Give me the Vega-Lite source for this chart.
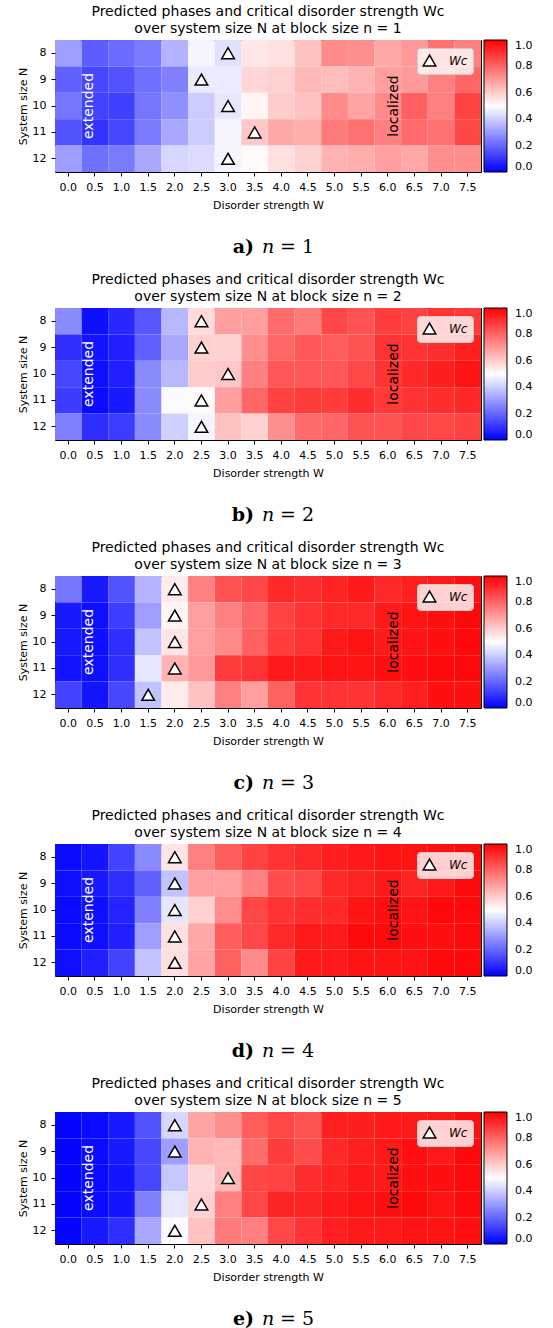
{
"$schema": "https://vega.github.io/schema/vega-lite/v6.json",
"padding": {"left": 16, "top": 4, "right": 5, "bottom": 0},
"spacing": 10,
"datasets": {
"a": [
{"N":8,"W":0,"p":0.31},{"N":8,"W":0.5,"p":0.18},{"N":8,"W":1,"p":0.21},{"N":8,"W":1.5,"p":0.24},{"N":8,"W":2,"p":0.35},{"N":8,"W":2.5,"p":0.48},{"N":8,"W":3,"p":0.44},{"N":8,"W":3.5,"p":0.55},{"N":8,"W":4,"p":0.56},{"N":8,"W":4.5,"p":0.62},{"N":8,"W":5,"p":0.73},{"N":8,"W":5.5,"p":0.72},{"N":8,"W":6,"p":0.67},{"N":8,"W":6.5,"p":0.70},{"N":8,"W":7,"p":0.78},{"N":8,"W":7.5,"p":0.75},
{"N":9,"W":0,"p":0.19},{"N":9,"W":0.5,"p":0.14},{"N":9,"W":1,"p":0.16},{"N":9,"W":1.5,"p":0.22},{"N":9,"W":2,"p":0.25},{"N":9,"W":2.5,"p":0.46},{"N":9,"W":3,"p":0.46},{"N":9,"W":3.5,"p":0.58},{"N":9,"W":4,"p":0.59},{"N":9,"W":4.5,"p":0.64},{"N":9,"W":5,"p":0.63},{"N":9,"W":5.5,"p":0.65},{"N":9,"W":6,"p":0.69},{"N":9,"W":6.5,"p":0.70},{"N":9,"W":7,"p":0.75},{"N":9,"W":7.5,"p":0.80},
{"N":10,"W":0,"p":0.23},{"N":10,"W":0.5,"p":0.13},{"N":10,"W":1,"p":0.125},{"N":10,"W":1.5,"p":0.23},{"N":10,"W":2,"p":0.28},{"N":10,"W":2.5,"p":0.40},{"N":10,"W":3,"p":0.45},{"N":10,"W":3.5,"p":0.52},{"N":10,"W":4,"p":0.60},{"N":10,"W":4.5,"p":0.62},{"N":10,"W":5,"p":0.73},{"N":10,"W":5.5,"p":0.68},{"N":10,"W":6,"p":0.73},{"N":10,"W":6.5,"p":0.81},{"N":10,"W":7,"p":0.75},{"N":10,"W":7.5,"p":0.87},
{"N":11,"W":0,"p":0.16},{"N":11,"W":0.5,"p":0.10},{"N":11,"W":1,"p":0.14},{"N":11,"W":1.5,"p":0.24},{"N":11,"W":2,"p":0.33},{"N":11,"W":2.5,"p":0.40},{"N":11,"W":3,"p":0.48},{"N":11,"W":3.5,"p":0.61},{"N":11,"W":4,"p":0.67},{"N":11,"W":4.5,"p":0.66},{"N":11,"W":5,"p":0.76},{"N":11,"W":5.5,"p":0.78},{"N":11,"W":6,"p":0.75},{"N":11,"W":6.5,"p":0.79},{"N":11,"W":7,"p":0.78},{"N":11,"W":7.5,"p":0.86},
{"N":12,"W":0,"p":0.31},{"N":12,"W":0.5,"p":0.22},{"N":12,"W":1,"p":0.24},{"N":12,"W":1.5,"p":0.33},{"N":12,"W":2,"p":0.42},{"N":12,"W":2.5,"p":0.43},{"N":12,"W":3,"p":0.48},{"N":12,"W":3.5,"p":0.51},{"N":12,"W":4,"p":0.56},{"N":12,"W":4.5,"p":0.59},{"N":12,"W":5,"p":0.65},{"N":12,"W":5.5,"p":0.66},{"N":12,"W":6,"p":0.69},{"N":12,"W":6.5,"p":0.67},{"N":12,"W":7,"p":0.72},{"N":12,"W":7.5,"p":0.72}
],
"b": [
{"N":8,"W":0,"p":0.27},{"N":8,"W":0.5,"p":0.03},{"N":8,"W":1,"p":0.08},{"N":8,"W":1.5,"p":0.17},{"N":8,"W":2,"p":0.36},{"N":8,"W":2.5,"p":0.57},{"N":8,"W":3,"p":0.69},{"N":8,"W":3.5,"p":0.69},{"N":8,"W":4,"p":0.79},{"N":8,"W":4.5,"p":0.76},{"N":8,"W":5,"p":0.86},{"N":8,"W":5.5,"p":0.84},{"N":8,"W":6,"p":0.88},{"N":8,"W":6.5,"p":0.87},{"N":8,"W":7,"p":0.90},{"N":8,"W":7.5,"p":0.89},
{"N":9,"W":0,"p":0.09},{"N":9,"W":0.5,"p":0.04},{"N":9,"W":1,"p":0.06},{"N":9,"W":1.5,"p":0.19},{"N":9,"W":2,"p":0.33},{"N":9,"W":2.5,"p":0.59},{"N":9,"W":3,"p":0.59},{"N":9,"W":3.5,"p":0.72},{"N":9,"W":4,"p":0.80},{"N":9,"W":4.5,"p":0.83},{"N":9,"W":5,"p":0.82},{"N":9,"W":5.5,"p":0.84},{"N":9,"W":6,"p":0.90},{"N":9,"W":6.5,"p":0.90},{"N":9,"W":7,"p":0.91},{"N":9,"W":7.5,"p":0.94},
{"N":10,"W":0,"p":0.14},{"N":10,"W":0.5,"p":0.03},{"N":10,"W":1,"p":0.06},{"N":10,"W":1.5,"p":0.27},{"N":10,"W":2,"p":0.36},{"N":10,"W":2.5,"p":0.60},{"N":10,"W":3,"p":0.61},{"N":10,"W":3.5,"p":0.75},{"N":10,"W":4,"p":0.83},{"N":10,"W":4.5,"p":0.83},{"N":10,"W":5,"p":0.83},{"N":10,"W":5.5,"p":0.86},{"N":10,"W":6,"p":0.90},{"N":10,"W":6.5,"p":0.92},{"N":10,"W":7,"p":0.94},{"N":10,"W":7.5,"p":0.96},
{"N":11,"W":0,"p":0.12},{"N":11,"W":0.5,"p":0.02},{"N":11,"W":1,"p":0.05},{"N":11,"W":1.5,"p":0.27},{"N":11,"W":2,"p":0.49},{"N":11,"W":2.5,"p":0.51},{"N":11,"W":3,"p":0.69},{"N":11,"W":3.5,"p":0.80},{"N":11,"W":4,"p":0.87},{"N":11,"W":4.5,"p":0.88},{"N":11,"W":5,"p":0.88},{"N":11,"W":5.5,"p":0.91},{"N":11,"W":6,"p":0.89},{"N":11,"W":6.5,"p":0.90},{"N":11,"W":7,"p":0.91},{"N":11,"W":7.5,"p":0.92},
{"N":12,"W":0,"p":0.25},{"N":12,"W":0.5,"p":0.09},{"N":12,"W":1,"p":0.12},{"N":12,"W":1.5,"p":0.27},{"N":12,"W":2,"p":0.41},{"N":12,"W":2.5,"p":0.48},{"N":12,"W":3,"p":0.62},{"N":12,"W":3.5,"p":0.59},{"N":12,"W":4,"p":0.72},{"N":12,"W":4.5,"p":0.79},{"N":12,"W":5,"p":0.80},{"N":12,"W":5.5,"p":0.84},{"N":12,"W":6,"p":0.84},{"N":12,"W":6.5,"p":0.86},{"N":12,"W":7,"p":0.86},{"N":12,"W":7.5,"p":0.87}
],
"c": [
{"N":8,"W":0,"p":0.23},{"N":8,"W":0.5,"p":0.05},{"N":8,"W":1,"p":0.16},{"N":8,"W":1.5,"p":0.35},{"N":8,"W":2,"p":0.54},{"N":8,"W":2.5,"p":0.75},{"N":8,"W":3,"p":0.84},{"N":8,"W":3.5,"p":0.86},{"N":8,"W":4,"p":0.92},{"N":8,"W":4.5,"p":0.91},{"N":8,"W":5,"p":0.93},{"N":8,"W":5.5,"p":0.95},{"N":8,"W":6,"p":0.92},{"N":8,"W":6.5,"p":0.94},{"N":8,"W":7,"p":0.95},{"N":8,"W":7.5,"p":0.97},
{"N":9,"W":0,"p":0.05},{"N":9,"W":0.5,"p":0.03},{"N":9,"W":1,"p":0.12},{"N":9,"W":1.5,"p":0.31},{"N":9,"W":2,"p":0.52},{"N":9,"W":2.5,"p":0.69},{"N":9,"W":3,"p":0.75},{"N":9,"W":3.5,"p":0.80},{"N":9,"W":4,"p":0.87},{"N":9,"W":4.5,"p":0.90},{"N":9,"W":5,"p":0.92},{"N":9,"W":5.5,"p":0.92},{"N":9,"W":6,"p":0.95},{"N":9,"W":6.5,"p":0.96},{"N":9,"W":7,"p":0.97},{"N":9,"W":7.5,"p":0.98},
{"N":10,"W":0,"p":0.05},{"N":10,"W":0.5,"p":0.03},{"N":10,"W":1,"p":0.09},{"N":10,"W":1.5,"p":0.38},{"N":10,"W":2,"p":0.55},{"N":10,"W":2.5,"p":0.69},{"N":10,"W":3,"p":0.73},{"N":10,"W":3.5,"p":0.81},{"N":10,"W":4,"p":0.88},{"N":10,"W":4.5,"p":0.90},{"N":10,"W":5,"p":0.95},{"N":10,"W":5.5,"p":0.96},{"N":10,"W":6,"p":0.95},{"N":10,"W":6.5,"p":0.96},{"N":10,"W":7,"p":0.97},{"N":10,"W":7.5,"p":0.98},
{"N":11,"W":0,"p":0.04},{"N":11,"W":0.5,"p":0.03},{"N":11,"W":1,"p":0.09},{"N":11,"W":1.5,"p":0.45},{"N":11,"W":2,"p":0.65},{"N":11,"W":2.5,"p":0.70},{"N":11,"W":3,"p":0.88},{"N":11,"W":3.5,"p":0.90},{"N":11,"W":4,"p":0.95},{"N":11,"W":4.5,"p":0.95},{"N":11,"W":5,"p":0.96},{"N":11,"W":5.5,"p":0.96},{"N":11,"W":6,"p":0.97},{"N":11,"W":6.5,"p":0.97},{"N":11,"W":7,"p":0.98},{"N":11,"W":7.5,"p":0.98},
{"N":12,"W":0,"p":0.13},{"N":12,"W":0.5,"p":0.04},{"N":12,"W":1,"p":0.14},{"N":12,"W":1.5,"p":0.38},{"N":12,"W":2,"p":0.54},{"N":12,"W":2.5,"p":0.62},{"N":12,"W":3,"p":0.75},{"N":12,"W":3.5,"p":0.69},{"N":12,"W":4,"p":0.81},{"N":12,"W":4.5,"p":0.90},{"N":12,"W":5,"p":0.90},{"N":12,"W":5.5,"p":0.90},{"N":12,"W":6,"p":0.92},{"N":12,"W":6.5,"p":0.94},{"N":12,"W":7,"p":0.97},{"N":12,"W":7.5,"p":0.97}
],
"d": [
{"N":8,"W":0,"p":0.02},{"N":8,"W":0.5,"p":0.04},{"N":8,"W":1,"p":0.13},{"N":8,"W":1.5,"p":0.27},{"N":8,"W":2,"p":0.55},{"N":8,"W":2.5,"p":0.75},{"N":8,"W":3,"p":0.82},{"N":8,"W":3.5,"p":0.87},{"N":8,"W":4,"p":0.90},{"N":8,"W":4.5,"p":0.92},{"N":8,"W":5,"p":0.94},{"N":8,"W":5.5,"p":0.95},{"N":8,"W":6,"p":0.96},{"N":8,"W":6.5,"p":0.96},{"N":8,"W":7,"p":0.97},{"N":8,"W":7.5,"p":0.98},
{"N":9,"W":0,"p":0.03},{"N":9,"W":0.5,"p":0.05},{"N":9,"W":1,"p":0.09},{"N":9,"W":1.5,"p":0.19},{"N":9,"W":2,"p":0.38},{"N":9,"W":2.5,"p":0.69},{"N":9,"W":3,"p":0.69},{"N":9,"W":3.5,"p":0.75},{"N":9,"W":4,"p":0.85},{"N":9,"W":4.5,"p":0.86},{"N":9,"W":5,"p":0.92},{"N":9,"W":5.5,"p":0.93},{"N":9,"W":6,"p":0.95},{"N":9,"W":6.5,"p":0.93},{"N":9,"W":7,"p":0.95},{"N":9,"W":7.5,"p":0.98},
{"N":10,"W":0,"p":0.02},{"N":10,"W":0.5,"p":0.03},{"N":10,"W":1,"p":0.07},{"N":10,"W":1.5,"p":0.25},{"N":10,"W":2,"p":0.45},{"N":10,"W":2.5,"p":0.59},{"N":10,"W":3,"p":0.72},{"N":10,"W":3.5,"p":0.86},{"N":10,"W":4,"p":0.90},{"N":10,"W":4.5,"p":0.91},{"N":10,"W":5,"p":0.92},{"N":10,"W":5.5,"p":0.96},{"N":10,"W":6,"p":0.97},{"N":10,"W":6.5,"p":0.96},{"N":10,"W":7,"p":0.98},{"N":10,"W":7.5,"p":0.98},
{"N":11,"W":0,"p":0.02},{"N":11,"W":0.5,"p":0.03},{"N":11,"W":1,"p":0.06},{"N":11,"W":1.5,"p":0.31},{"N":11,"W":2,"p":0.56},{"N":11,"W":2.5,"p":0.67},{"N":11,"W":3,"p":0.82},{"N":11,"W":3.5,"p":0.86},{"N":11,"W":4,"p":0.92},{"N":11,"W":4.5,"p":0.95},{"N":11,"W":5,"p":0.95},{"N":11,"W":5.5,"p":0.98},{"N":11,"W":6,"p":0.98},{"N":11,"W":6.5,"p":0.97},{"N":11,"W":7,"p":0.97},{"N":11,"W":7.5,"p":0.98},
{"N":12,"W":0,"p":0.03},{"N":12,"W":0.5,"p":0.06},{"N":12,"W":1,"p":0.13},{"N":12,"W":1.5,"p":0.38},{"N":12,"W":2,"p":0.56},{"N":12,"W":2.5,"p":0.68},{"N":12,"W":3,"p":0.81},{"N":12,"W":3.5,"p":0.73},{"N":12,"W":4,"p":0.87},{"N":12,"W":4.5,"p":0.95},{"N":12,"W":5,"p":0.95},{"N":12,"W":5.5,"p":0.96},{"N":12,"W":6,"p":0.96},{"N":12,"W":6.5,"p":0.96},{"N":12,"W":7,"p":0.98},{"N":12,"W":7.5,"p":0.98}
],
"e": [
{"N":8,"W":0,"p":0.01},{"N":8,"W":0.5,"p":0.02},{"N":8,"W":1,"p":0.05},{"N":8,"W":1.5,"p":0.16},{"N":8,"W":2,"p":0.42},{"N":8,"W":2.5,"p":0.68},{"N":8,"W":3,"p":0.72},{"N":8,"W":3.5,"p":0.82},{"N":8,"W":4,"p":0.86},{"N":8,"W":4.5,"p":0.84},{"N":8,"W":5,"p":0.94},{"N":8,"W":5.5,"p":0.94},{"N":8,"W":6,"p":0.95},{"N":8,"W":6.5,"p":0.95},{"N":8,"W":7,"p":0.95},{"N":8,"W":7.5,"p":0.97},
{"N":9,"W":0,"p":0.01},{"N":9,"W":0.5,"p":0.02},{"N":9,"W":1,"p":0.05},{"N":9,"W":1.5,"p":0.14},{"N":9,"W":2,"p":0.31},{"N":9,"W":2.5,"p":0.65},{"N":9,"W":3,"p":0.64},{"N":9,"W":3.5,"p":0.79},{"N":9,"W":4,"p":0.88},{"N":9,"W":4.5,"p":0.85},{"N":9,"W":5,"p":0.92},{"N":9,"W":5.5,"p":0.94},{"N":9,"W":6,"p":0.95},{"N":9,"W":6.5,"p":0.97},{"N":9,"W":7,"p":0.95},{"N":9,"W":7.5,"p":0.98},
{"N":10,"W":0,"p":0.01},{"N":10,"W":0.5,"p":0.02},{"N":10,"W":1,"p":0.04},{"N":10,"W":1.5,"p":0.14},{"N":10,"W":2,"p":0.39},{"N":10,"W":2.5,"p":0.58},{"N":10,"W":3,"p":0.64},{"N":10,"W":3.5,"p":0.86},{"N":10,"W":4,"p":0.87},{"N":10,"W":4.5,"p":0.91},{"N":10,"W":5,"p":0.93},{"N":10,"W":5.5,"p":0.95},{"N":10,"W":6,"p":0.95},{"N":10,"W":6.5,"p":0.97},{"N":10,"W":7,"p":0.97},{"N":10,"W":7.5,"p":0.98},
{"N":11,"W":0,"p":0.01},{"N":11,"W":0.5,"p":0.02},{"N":11,"W":1,"p":0.04},{"N":11,"W":1.5,"p":0.25},{"N":11,"W":2,"p":0.45},{"N":11,"W":2.5,"p":0.59},{"N":11,"W":3,"p":0.75},{"N":11,"W":3.5,"p":0.86},{"N":11,"W":4,"p":0.93},{"N":11,"W":4.5,"p":0.93},{"N":11,"W":5,"p":0.95},{"N":11,"W":5.5,"p":0.96},{"N":11,"W":6,"p":0.97},{"N":11,"W":6.5,"p":0.98},{"N":11,"W":7,"p":0.96},{"N":11,"W":7.5,"p":0.98},
{"N":12,"W":0,"p":0.01},{"N":12,"W":0.5,"p":0.05},{"N":12,"W":1,"p":0.09},{"N":12,"W":1.5,"p":0.33},{"N":12,"W":2,"p":0.49},{"N":12,"W":2.5,"p":0.62},{"N":12,"W":3,"p":0.76},{"N":12,"W":3.5,"p":0.75},{"N":12,"W":4,"p":0.86},{"N":12,"W":4.5,"p":0.90},{"N":12,"W":5,"p":0.94},{"N":12,"W":5.5,"p":0.95},{"N":12,"W":6,"p":0.95},{"N":12,"W":6.5,"p":0.96},{"N":12,"W":7,"p":0.96},{"N":12,"W":7.5,"p":0.97}
],
"wa": [{"N":8,"W":3,"lbl":"Wc"},{"N":9,"W":2.5,"lbl":"Wc"},{"N":10,"W":3,"lbl":"Wc"},{"N":11,"W":3.5,"lbl":"Wc"},{"N":12,"W":3,"lbl":"Wc"}],
"wb": [{"N":8,"W":2.5,"lbl":"Wc"},{"N":9,"W":2.5,"lbl":"Wc"},{"N":10,"W":3,"lbl":"Wc"},{"N":11,"W":2.5,"lbl":"Wc"},{"N":12,"W":2.5,"lbl":"Wc"}],
"wc": [{"N":8,"W":2,"lbl":"Wc"},{"N":9,"W":2,"lbl":"Wc"},{"N":10,"W":2,"lbl":"Wc"},{"N":11,"W":2,"lbl":"Wc"},{"N":12,"W":1.5,"lbl":"Wc"}],
"wd": [{"N":8,"W":2,"lbl":"Wc"},{"N":9,"W":2,"lbl":"Wc"},{"N":10,"W":2,"lbl":"Wc"},{"N":11,"W":2,"lbl":"Wc"},{"N":12,"W":2,"lbl":"Wc"}],
"we": [{"N":8,"W":2,"lbl":"Wc"},{"N":9,"W":2,"lbl":"Wc"},{"N":10,"W":3,"lbl":"Wc"},{"N":11,"W":2.5,"lbl":"Wc"},{"N":12,"W":2,"lbl":"Wc"}],
"ext": [{"W":0.5,"N":10,"t":"extended"}],
"loc": [{"W":6,"N":10,"t":"localized"}]
},
"vconcat": [
{"width":426,"height":132,"title":{"text":["Predicted phases and critical disorder strength Wc","over system size N at block size n = 1"]},
"layer":[
{"data":{"name":"a"},"mark":{"type":"rect"},"encoding":{
"x":{"field":"W","type":"ordinal","scale":{"domain":[0,0.5,1,1.5,2,2.5,3,3.5,4,4.5,5,5.5,6,6.5,7,7.5],"paddingInner":0,"paddingOuter":0},"axis":{"title":"Disorder strength W","labelExpr":"format(datum.value,'.1f')"}},
"y":{"field":"N","type":"ordinal","scale":{"domain":[8,9,10,11,12],"paddingInner":0,"paddingOuter":0},"axis":{"title":"System size N"}},
"color":{"field":"p","type":"quantitative","scale":{"type":"linear","domain":[0,0.5,1],"range":["#0000ff","#ffffff","#ff0000"],"interpolate":"rgb"},"legend":{"type":"gradient","title":null,"orient":"right","direction":"vertical","offset":3,"gradientLength":132,"gradientThickness":23,"gradientStrokeColor":"black","gradientStrokeWidth":1,"values":[0,0.2,0.4,0.6,0.8,1],"format":".1f","labelFontSize":11,"labelOffset":8,"labelOverlap":false,"encode":{"labels":{"baseline":{"value":"middle"}}}}}}},
{"data":{"name":"wa"},"mark":{"type":"point","shape":"triangle-up","filled":true,"fill":"white","stroke":"black","strokeWidth":1.5,"size":160,"opacity":1},"encoding":{"x":{"field":"W","type":"ordinal"},"y":{"field":"N","type":"ordinal"},"shape":{"field":"lbl","type":"nominal","scale":{"range":["triangle-up"]},"legend":{"title":null,"orient":"top-right","offset":8,"padding":5,"fillColor":"rgba(255,255,255,0.8)","strokeColor":"#cccccc","cornerRadius":3,"symbolSize":160,"symbolStrokeWidth":1.5,"symbolOpacity":1,"labelFontSize":12,"labelFontStyle":"italic","labelOffset":12,"encode":{"symbols":{"stroke":{"value":"black"},"fill":{"value":"white"},"strokeWidth":{"value":1.5}}}}}}},
{"data":{"name":"ext"},"mark":{"type":"text","angle":270,"color":"white","fontSize":14,"baseline":"middle","align":"center","dy":-6},"encoding":{"x":{"field":"W","type":"ordinal"},"y":{"field":"N","type":"ordinal"},"text":{"field":"t"}}},
{"data":{"name":"loc"},"mark":{"type":"text","angle":270,"color":"black","fontSize":14,"baseline":"middle","align":"center","dy":6},"encoding":{"x":{"field":"W","type":"ordinal"},"y":{"field":"N","type":"ordinal"},"text":{"field":"t"}}}
]},
{"width":426,"height":41,"view":{"stroke":null},"layer":[
{"data":{"values":[{"t":"a)"}]},"mark":{"type":"text","font":"DejaVu Serif","fontSize":19,"fontWeight":"bold","align":"right","baseline":"middle","dx":-14,"dy":5},"encoding":{"text":{"field":"t"}}},
{"data":{"values":[{"t":"n"}]},"mark":{"type":"text","font":"DejaVu Serif","fontSize":19,"fontStyle":"italic","align":"left","baseline":"middle","dx":-6,"dy":5},"encoding":{"text":{"field":"t"}}},
{"data":{"values":[{"t":"= 1"}]},"mark":{"type":"text","font":"DejaVu Serif","fontSize":19,"align":"left","baseline":"middle","dx":12,"dy":5},"encoding":{"text":{"field":"t"}}}
]},
{"width":426,"height":132,"title":{"text":["Predicted phases and critical disorder strength Wc","over system size N at block size n = 2"]},
"layer":[
{"data":{"name":"b"},"mark":{"type":"rect"},"encoding":{
"x":{"field":"W","type":"ordinal","scale":{"domain":[0,0.5,1,1.5,2,2.5,3,3.5,4,4.5,5,5.5,6,6.5,7,7.5],"paddingInner":0,"paddingOuter":0},"axis":{"title":"Disorder strength W","labelExpr":"format(datum.value,'.1f')"}},
"y":{"field":"N","type":"ordinal","scale":{"domain":[8,9,10,11,12],"paddingInner":0,"paddingOuter":0},"axis":{"title":"System size N"}},
"color":{"field":"p","type":"quantitative","scale":{"type":"linear","domain":[0,0.5,1],"range":["#0000ff","#ffffff","#ff0000"],"interpolate":"rgb"},"legend":{"type":"gradient","title":null,"orient":"right","direction":"vertical","offset":3,"gradientLength":132,"gradientThickness":23,"gradientStrokeColor":"black","gradientStrokeWidth":1,"values":[0,0.2,0.4,0.6,0.8,1],"format":".1f","labelFontSize":11,"labelOffset":8,"labelOverlap":false,"encode":{"labels":{"baseline":{"value":"middle"}}}}}}},
{"data":{"name":"wb"},"mark":{"type":"point","shape":"triangle-up","filled":true,"fill":"white","stroke":"black","strokeWidth":1.5,"size":160,"opacity":1},"encoding":{"x":{"field":"W","type":"ordinal"},"y":{"field":"N","type":"ordinal"},"shape":{"field":"lbl","type":"nominal","scale":{"range":["triangle-up"]},"legend":{"title":null,"orient":"top-right","offset":8,"padding":5,"fillColor":"rgba(255,255,255,0.8)","strokeColor":"#cccccc","cornerRadius":3,"symbolSize":160,"symbolStrokeWidth":1.5,"symbolOpacity":1,"labelFontSize":12,"labelFontStyle":"italic","labelOffset":12,"encode":{"symbols":{"stroke":{"value":"black"},"fill":{"value":"white"},"strokeWidth":{"value":1.5}}}}}}},
{"data":{"name":"ext"},"mark":{"type":"text","angle":270,"color":"white","fontSize":14,"baseline":"middle","align":"center","dy":-6},"encoding":{"x":{"field":"W","type":"ordinal"},"y":{"field":"N","type":"ordinal"},"text":{"field":"t"}}},
{"data":{"name":"loc"},"mark":{"type":"text","angle":270,"color":"black","fontSize":14,"baseline":"middle","align":"center","dy":6},"encoding":{"x":{"field":"W","type":"ordinal"},"y":{"field":"N","type":"ordinal"},"text":{"field":"t"}}}
]},
{"width":426,"height":41,"view":{"stroke":null},"layer":[
{"data":{"values":[{"t":"b)"}]},"mark":{"type":"text","font":"DejaVu Serif","fontSize":19,"fontWeight":"bold","align":"right","baseline":"middle","dx":-14,"dy":5},"encoding":{"text":{"field":"t"}}},
{"data":{"values":[{"t":"n"}]},"mark":{"type":"text","font":"DejaVu Serif","fontSize":19,"fontStyle":"italic","align":"left","baseline":"middle","dx":-6,"dy":5},"encoding":{"text":{"field":"t"}}},
{"data":{"values":[{"t":"= 2"}]},"mark":{"type":"text","font":"DejaVu Serif","fontSize":19,"align":"left","baseline":"middle","dx":12,"dy":5},"encoding":{"text":{"field":"t"}}}
]},
{"width":426,"height":132,"title":{"text":["Predicted phases and critical disorder strength Wc","over system size N at block size n = 3"]},
"layer":[
{"data":{"name":"c"},"mark":{"type":"rect"},"encoding":{
"x":{"field":"W","type":"ordinal","scale":{"domain":[0,0.5,1,1.5,2,2.5,3,3.5,4,4.5,5,5.5,6,6.5,7,7.5],"paddingInner":0,"paddingOuter":0},"axis":{"title":"Disorder strength W","labelExpr":"format(datum.value,'.1f')"}},
"y":{"field":"N","type":"ordinal","scale":{"domain":[8,9,10,11,12],"paddingInner":0,"paddingOuter":0},"axis":{"title":"System size N"}},
"color":{"field":"p","type":"quantitative","scale":{"type":"linear","domain":[0,0.5,1],"range":["#0000ff","#ffffff","#ff0000"],"interpolate":"rgb"},"legend":{"type":"gradient","title":null,"orient":"right","direction":"vertical","offset":3,"gradientLength":132,"gradientThickness":23,"gradientStrokeColor":"black","gradientStrokeWidth":1,"values":[0,0.2,0.4,0.6,0.8,1],"format":".1f","labelFontSize":11,"labelOffset":8,"labelOverlap":false,"encode":{"labels":{"baseline":{"value":"middle"}}}}}}},
{"data":{"name":"wc"},"mark":{"type":"point","shape":"triangle-up","filled":true,"fill":"white","stroke":"black","strokeWidth":1.5,"size":160,"opacity":1},"encoding":{"x":{"field":"W","type":"ordinal"},"y":{"field":"N","type":"ordinal"},"shape":{"field":"lbl","type":"nominal","scale":{"range":["triangle-up"]},"legend":{"title":null,"orient":"top-right","offset":8,"padding":5,"fillColor":"rgba(255,255,255,0.8)","strokeColor":"#cccccc","cornerRadius":3,"symbolSize":160,"symbolStrokeWidth":1.5,"symbolOpacity":1,"labelFontSize":12,"labelFontStyle":"italic","labelOffset":12,"encode":{"symbols":{"stroke":{"value":"black"},"fill":{"value":"white"},"strokeWidth":{"value":1.5}}}}}}},
{"data":{"name":"ext"},"mark":{"type":"text","angle":270,"color":"white","fontSize":14,"baseline":"middle","align":"center","dy":-6},"encoding":{"x":{"field":"W","type":"ordinal"},"y":{"field":"N","type":"ordinal"},"text":{"field":"t"}}},
{"data":{"name":"loc"},"mark":{"type":"text","angle":270,"color":"black","fontSize":14,"baseline":"middle","align":"center","dy":6},"encoding":{"x":{"field":"W","type":"ordinal"},"y":{"field":"N","type":"ordinal"},"text":{"field":"t"}}}
]},
{"width":426,"height":41,"view":{"stroke":null},"layer":[
{"data":{"values":[{"t":"c)"}]},"mark":{"type":"text","font":"DejaVu Serif","fontSize":19,"fontWeight":"bold","align":"right","baseline":"middle","dx":-14,"dy":5},"encoding":{"text":{"field":"t"}}},
{"data":{"values":[{"t":"n"}]},"mark":{"type":"text","font":"DejaVu Serif","fontSize":19,"fontStyle":"italic","align":"left","baseline":"middle","dx":-6,"dy":5},"encoding":{"text":{"field":"t"}}},
{"data":{"values":[{"t":"= 3"}]},"mark":{"type":"text","font":"DejaVu Serif","fontSize":19,"align":"left","baseline":"middle","dx":12,"dy":5},"encoding":{"text":{"field":"t"}}}
]},
{"width":426,"height":132,"title":{"text":["Predicted phases and critical disorder strength Wc","over system size N at block size n = 4"]},
"layer":[
{"data":{"name":"d"},"mark":{"type":"rect"},"encoding":{
"x":{"field":"W","type":"ordinal","scale":{"domain":[0,0.5,1,1.5,2,2.5,3,3.5,4,4.5,5,5.5,6,6.5,7,7.5],"paddingInner":0,"paddingOuter":0},"axis":{"title":"Disorder strength W","labelExpr":"format(datum.value,'.1f')"}},
"y":{"field":"N","type":"ordinal","scale":{"domain":[8,9,10,11,12],"paddingInner":0,"paddingOuter":0},"axis":{"title":"System size N"}},
"color":{"field":"p","type":"quantitative","scale":{"type":"linear","domain":[0,0.5,1],"range":["#0000ff","#ffffff","#ff0000"],"interpolate":"rgb"},"legend":{"type":"gradient","title":null,"orient":"right","direction":"vertical","offset":3,"gradientLength":132,"gradientThickness":23,"gradientStrokeColor":"black","gradientStrokeWidth":1,"values":[0,0.2,0.4,0.6,0.8,1],"format":".1f","labelFontSize":11,"labelOffset":8,"labelOverlap":false,"encode":{"labels":{"baseline":{"value":"middle"}}}}}}},
{"data":{"name":"wd"},"mark":{"type":"point","shape":"triangle-up","filled":true,"fill":"white","stroke":"black","strokeWidth":1.5,"size":160,"opacity":1},"encoding":{"x":{"field":"W","type":"ordinal"},"y":{"field":"N","type":"ordinal"},"shape":{"field":"lbl","type":"nominal","scale":{"range":["triangle-up"]},"legend":{"title":null,"orient":"top-right","offset":8,"padding":5,"fillColor":"rgba(255,255,255,0.8)","strokeColor":"#cccccc","cornerRadius":3,"symbolSize":160,"symbolStrokeWidth":1.5,"symbolOpacity":1,"labelFontSize":12,"labelFontStyle":"italic","labelOffset":12,"encode":{"symbols":{"stroke":{"value":"black"},"fill":{"value":"white"},"strokeWidth":{"value":1.5}}}}}}},
{"data":{"name":"ext"},"mark":{"type":"text","angle":270,"color":"white","fontSize":14,"baseline":"middle","align":"center","dy":-6},"encoding":{"x":{"field":"W","type":"ordinal"},"y":{"field":"N","type":"ordinal"},"text":{"field":"t"}}},
{"data":{"name":"loc"},"mark":{"type":"text","angle":270,"color":"black","fontSize":14,"baseline":"middle","align":"center","dy":6},"encoding":{"x":{"field":"W","type":"ordinal"},"y":{"field":"N","type":"ordinal"},"text":{"field":"t"}}}
]},
{"width":426,"height":41,"view":{"stroke":null},"layer":[
{"data":{"values":[{"t":"d)"}]},"mark":{"type":"text","font":"DejaVu Serif","fontSize":19,"fontWeight":"bold","align":"right","baseline":"middle","dx":-14,"dy":5},"encoding":{"text":{"field":"t"}}},
{"data":{"values":[{"t":"n"}]},"mark":{"type":"text","font":"DejaVu Serif","fontSize":19,"fontStyle":"italic","align":"left","baseline":"middle","dx":-6,"dy":5},"encoding":{"text":{"field":"t"}}},
{"data":{"values":[{"t":"= 4"}]},"mark":{"type":"text","font":"DejaVu Serif","fontSize":19,"align":"left","baseline":"middle","dx":12,"dy":5},"encoding":{"text":{"field":"t"}}}
]},
{"width":426,"height":132,"title":{"text":["Predicted phases and critical disorder strength Wc","over system size N at block size n = 5"]},
"layer":[
{"data":{"name":"e"},"mark":{"type":"rect"},"encoding":{
"x":{"field":"W","type":"ordinal","scale":{"domain":[0,0.5,1,1.5,2,2.5,3,3.5,4,4.5,5,5.5,6,6.5,7,7.5],"paddingInner":0,"paddingOuter":0},"axis":{"title":"Disorder strength W","labelExpr":"format(datum.value,'.1f')"}},
"y":{"field":"N","type":"ordinal","scale":{"domain":[8,9,10,11,12],"paddingInner":0,"paddingOuter":0},"axis":{"title":"System size N"}},
"color":{"field":"p","type":"quantitative","scale":{"type":"linear","domain":[0,0.5,1],"range":["#0000ff","#ffffff","#ff0000"],"interpolate":"rgb"},"legend":{"type":"gradient","title":null,"orient":"right","direction":"vertical","offset":3,"gradientLength":132,"gradientThickness":23,"gradientStrokeColor":"black","gradientStrokeWidth":1,"values":[0,0.2,0.4,0.6,0.8,1],"format":".1f","labelFontSize":11,"labelOffset":8,"labelOverlap":false,"encode":{"labels":{"baseline":{"value":"middle"}}}}}}},
{"data":{"name":"we"},"mark":{"type":"point","shape":"triangle-up","filled":true,"fill":"white","stroke":"black","strokeWidth":1.5,"size":160,"opacity":1},"encoding":{"x":{"field":"W","type":"ordinal"},"y":{"field":"N","type":"ordinal"},"shape":{"field":"lbl","type":"nominal","scale":{"range":["triangle-up"]},"legend":{"title":null,"orient":"top-right","offset":8,"padding":5,"fillColor":"rgba(255,255,255,0.8)","strokeColor":"#cccccc","cornerRadius":3,"symbolSize":160,"symbolStrokeWidth":1.5,"symbolOpacity":1,"labelFontSize":12,"labelFontStyle":"italic","labelOffset":12,"encode":{"symbols":{"stroke":{"value":"black"},"fill":{"value":"white"},"strokeWidth":{"value":1.5}}}}}}},
{"data":{"name":"ext"},"mark":{"type":"text","angle":270,"color":"white","fontSize":14,"baseline":"middle","align":"center","dy":-6},"encoding":{"x":{"field":"W","type":"ordinal"},"y":{"field":"N","type":"ordinal"},"text":{"field":"t"}}},
{"data":{"name":"loc"},"mark":{"type":"text","angle":270,"color":"black","fontSize":14,"baseline":"middle","align":"center","dy":6},"encoding":{"x":{"field":"W","type":"ordinal"},"y":{"field":"N","type":"ordinal"},"text":{"field":"t"}}}
]},
{"width":426,"height":41,"view":{"stroke":null},"layer":[
{"data":{"values":[{"t":"e)"}]},"mark":{"type":"text","font":"DejaVu Serif","fontSize":19,"fontWeight":"bold","align":"right","baseline":"middle","dx":-14,"dy":5},"encoding":{"text":{"field":"t"}}},
{"data":{"values":[{"t":"n"}]},"mark":{"type":"text","font":"DejaVu Serif","fontSize":19,"fontStyle":"italic","align":"left","baseline":"middle","dx":-6,"dy":5},"encoding":{"text":{"field":"t"}}},
{"data":{"values":[{"t":"= 5"}]},"mark":{"type":"text","font":"DejaVu Serif","fontSize":19,"align":"left","baseline":"middle","dx":12,"dy":5},"encoding":{"text":{"field":"t"}}}
]}
],
"resolve": {"scale": {"color": "independent", "shape": "independent", "x": "independent", "y": "independent"}, "legend": {"color": "independent", "shape": "independent"}},
"config": {
"font": "DejaVu Sans",
"view": {"stroke": "black", "strokeWidth": 1},
"axis": {"labelFontSize": 11, "titleFontSize": 11, "titleFontWeight": "normal", "labelColor": "black", "titleColor": "black", "tickColor": "black", "domain": false, "tickSize": 4, "grid": false},
"axisX": {"labelAngle": 0, "labelPadding": 5, "titlePadding": 7},
"axisY": {"labelPadding": 5, "titlePadding": 4},
"title": {"fontSize": 14, "fontWeight": "normal", "lineHeight": 17, "offset": 4, "frame": "group", "color": "black", "anchor": "middle"},
"legend": {"labelColor": "black"}
}
}
